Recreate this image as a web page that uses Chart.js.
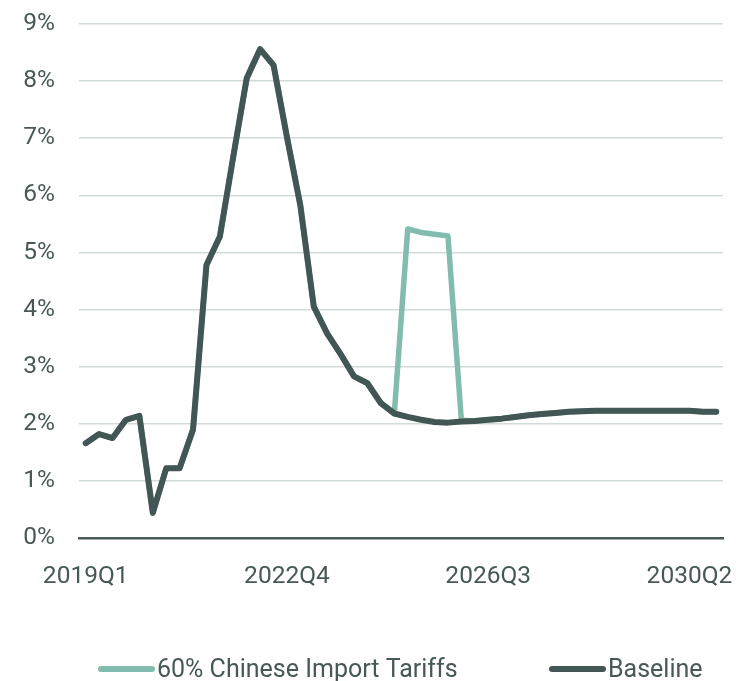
<!DOCTYPE html>
<html>
<head>
<meta charset="utf-8">
<script src="https://cdn.jsdelivr.net/npm/chart.js@4/dist/chart.umd.min.js"></script>
<style>
  html, body { margin: 0; padding: 0; background: #ffffff; overflow: hidden; }
  #wrap { position: relative; width: 736px; height: 681px; }
</style>
</head>
<body>
<div id="wrap"><canvas id="c"></canvas></div>
<script>
// Quarters 2019Q1 .. 2030Q4
const quarters = [];
for (let y = 2019; y <= 2030; y++) {
  for (let q = 1; q <= 4; q++) quarters.push(y + 'Q' + q);
}

const baseline = [1.66, 1.82, 1.75, 2.07, 2.14, 0.44, 1.22, 1.22, 1.90, 4.78,
  5.28, 6.68, 8.05, 8.56, 8.28, 7.02, 5.82, 4.05, 3.58, 3.22,
  2.83, 2.71, 2.36, 2.18, 2.12, 2.07, 2.03, 2.02, 2.04, 2.05,
  2.07, 2.09, 2.12, 2.15, 2.17, 2.19, 2.21, 2.22, 2.23, 2.23,
  2.23, 2.23, 2.23, 2.23, 2.23, 2.23, 2.21, 2.21];

const tariffs = [1.66, 1.82, 1.75, 2.07, 2.14, 0.44, 1.22, 1.22, 1.90, 4.78,
  5.28, 6.68, 8.05, 8.56, 8.28, 7.02, 5.82, 4.05, 3.58, 3.22,
  2.83, 2.71, 2.36, 2.18, 5.41, 5.35, 5.32, 5.29, 2.06, 2.05,
  2.07, 2.09, 2.12, 2.15, 2.17, 2.19, 2.21, 2.22, 2.23, 2.23,
  2.23, 2.23, 2.23, 2.23, 2.23, 2.23, 2.21, 2.21];

const seriesNames = ['60% Chinese Import Tariffs', 'Baseline'];
const yTicks = [0, 1, 2, 3, 4, 5, 6, 7, 8, 9];
const xLabelEvery = 15;

const textColor = '#475857';
const FONT = 'Roboto';

// Legend drawn on the canvas, one entry per dataset (in dataset order)
const legendPlugin = {
  id: 'bottomLegend',
  afterDraw(chart) {
    const ctx = chart.ctx;
    const lineY = 669, textY = 671, lineLen = 57;
    const startX = [98, 549];
    ctx.save();
    ctx.font = '25px ' + FONT;
    ctx.textBaseline = 'middle';
    ctx.textAlign = 'left';
    chart.data.datasets.forEach((ds, i) => {
      const x = startX[i];
      ctx.strokeStyle = ds.borderColor;
      ctx.lineWidth = 6;
      ctx.lineCap = 'round';
      ctx.beginPath();
      ctx.moveTo(x + 3, lineY);
      ctx.lineTo(x + lineLen - 3, lineY);
      ctx.stroke();
      ctx.fillStyle = textColor;
      ctx.fillText(ds.label, x + lineLen + 2, textY);
    });
    ctx.restore();
  }
};

new Chart(document.getElementById('c'), {
  type: 'line',
  data: {
    labels: quarters,
    datasets: [
      {
        label: seriesNames[0],
        data: tariffs,
        borderColor: '#82bcae',
        backgroundColor: '#82bcae',
        borderWidth: 5.5,
        pointRadius: 0,
        tension: 0,
        borderJoinStyle: 'round',
        borderCapStyle: 'round',
        order: 2
      },
      {
        label: seriesNames[1],
        data: baseline,
        borderColor: '#435656',
        backgroundColor: '#435656',
        borderWidth: 6,
        pointRadius: 0,
        tension: 0,
        borderJoinStyle: 'round',
        borderCapStyle: 'round',
        order: 1
      }
    ]
  },
  plugins: [legendPlugin],
  options: {
    responsive: true,
    maintainAspectRatio: false,
    animation: false,
    layout: { autoPadding: false, padding: { left: 0, right: 13, top: 24, bottom: 73 } },
    plugins: {
      tooltip: { enabled: false },
      legend: { display: false }
    },
    scales: {
      x: {
        type: 'category',
        offset: true,
        grid: { display: false, drawTicks: false },
        border: { display: true, color: '#4a5a5a', width: 2.5 },
        afterFit: (s) => { s.height = 70; s.paddingLeft = 0; s.paddingRight = 0; s.paddingTop = 0; s.paddingBottom = 0; },
        ticks: {
          autoSkip: false,
          maxRotation: 0,
          padding: 24,
          color: textColor,
          font: { family: FONT, size: 24.5 },
          callback: function (v, i) { return i % xLabelEvery === 0 ? quarters[i] : null; }
        }
      },
      y: {
        min: yTicks[0],
        max: yTicks[yTicks.length - 1],
        grid: { color: '#d3dada', lineWidth: 1.5, drawTicks: false },
        border: { display: false },
        afterBuildTicks: (axis) => { axis.ticks = yTicks.map(v => ({ value: v })); },
        afterFit: (s) => { s.width = 79; s.paddingLeft = 0; s.paddingRight = 0; s.paddingTop = 0; s.paddingBottom = 0; },
        ticks: {
          padding: 24,
          color: textColor,
          font: { family: FONT, size: 24.5 },
          callback: (v) => v + '%'
        }
      }
    }
  }
});
</script>
</body>
</html>
